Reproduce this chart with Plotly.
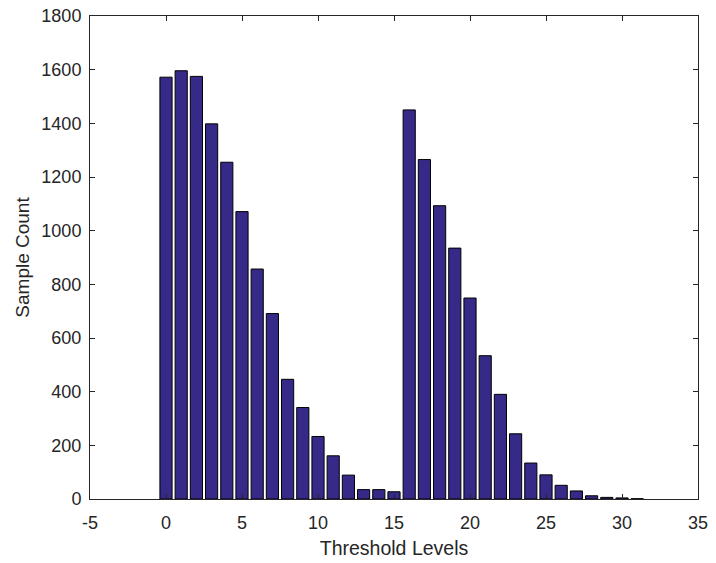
import plotly.graph_objects as go

levels = list(range(32))
counts = [1572, 1596, 1575, 1398, 1255, 1071, 857, 691, 446, 341, 233, 161, 89, 35, 35, 27,
          1450, 1265, 1093, 935, 749, 534, 390, 243, 134, 90, 51, 30, 12, 6, 4, 1]
x_ticks = [-5, 0, 5, 10, 15, 20, 25, 30, 35]
x_tick_labels = ["-5", "0", "5", "10", "15", "20", "25", "30", "35"]
y_ticks = list(range(0, 1801, 200))

FONT = "Liberation Sans, Arial, Helvetica"

fig = go.Figure()
fig.add_trace(go.Bar(x=levels, y=counts, width=0.8,
                     marker=dict(color="rgb(53,42,135)", line=dict(color="black", width=1))))

axis_common = dict(showline=True, linecolor="#262626", linewidth=1, mirror="ticks",
                   ticks="inside", ticklen=5, tickcolor="#262626", showgrid=False,
                   zeroline=False, automargin=False,
                   tickfont=dict(family=FONT, size=18, color="#262626"))

fig.update_layout(
    width=716, height=563,
    margin=dict(l=90, r=18, t=16, b=64),
    plot_bgcolor="white", paper_bgcolor="white",
    showlegend=False,
    xaxis=dict(range=[-5, 35], tickvals=x_ticks, ticktext=x_tick_labels, ticklabelstandoff=7,
               title=dict(text="Threshold Levels", standoff=9,
                          font=dict(family=FONT, size=19.5, color="#262626")),
               **axis_common),
    yaxis=dict(range=[0, 1800], tickvals=y_ticks, ticklabelstandoff=4,
               title=dict(text="Sample Count", standoff=6,
                          font=dict(family=FONT, size=19, color="#262626")),
               **axis_common),
)

fig.write_html("out.html")
